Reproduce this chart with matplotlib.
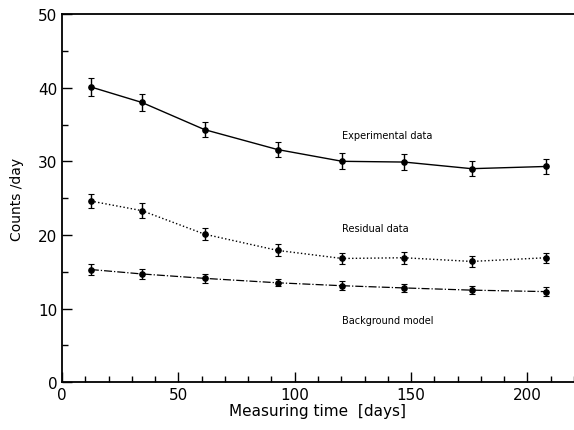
import matplotlib.pyplot as plt
from matplotlib.ticker import MultipleLocator

days = [12.4, 34.3, 61.3, 92.6, 120.4, 147.0, 176.0, 208.0]
experimental = [40.1, 38.0, 34.3, 31.6, 30.0, 29.9, 29.0, 29.3]
experimental_err = [1.2, 1.2, 1.0, 1.0, 1.1, 1.1, 1.0, 1.0]
residual = [24.6, 23.3, 20.1, 17.9, 16.8, 16.9, 16.4, 16.9]
residual_err = [1.0, 1.0, 0.8, 0.8, 0.8, 0.8, 0.7, 0.7]
background = [15.3, 14.7, 14.1, 13.5, 13.1, 12.8, 12.5, 12.3]
background_err = [0.7, 0.7, 0.6, 0.5, 0.6, 0.6, 0.5, 0.6]

fig = plt.figure(figsize=(5.74, 4.31), dpi=100)
ax = fig.add_axes([0.108, 0.111, 0.892, 0.854])

err_kw = dict(color='black', ecolor='black', elinewidth=1.0, capsize=2,
              capthick=0.8, markersize=3.8, marker='o')
ax.errorbar(days, experimental, yerr=experimental_err, linestyle='-',
            linewidth=1.0, **err_kw)
ax.errorbar(days, residual, yerr=residual_err, linestyle=':',
            linewidth=1.0, **err_kw)
ax.errorbar(days, background, yerr=background_err, linestyle='-.',
            linewidth=0.9, **err_kw)

ax.text(120.4, 33.6, 'Experimental data', fontsize=7, va='center')
ax.text(120.4, 21.0, 'Residual data', fontsize=7, va='center')
ax.text(120.4, 8.4, 'Background model', fontsize=7, va='center')

ax.set_xlim(0, 220)
ax.set_ylim(0, 50)
ax.xaxis.set_major_locator(MultipleLocator(50))
ax.xaxis.set_minor_locator(MultipleLocator(10))
ax.yaxis.set_major_locator(MultipleLocator(10))
ax.yaxis.set_minor_locator(MultipleLocator(5))
ax.tick_params(which='both', direction='in', top=False, right=False,
               labelsize=11, width=1.0)
ax.tick_params(which='major', length=7)
ax.tick_params(which='minor', length=4)
ax.spines['right'].set_visible(False)
for s in ['left', 'bottom', 'top']:
    ax.spines[s].set_linewidth(1.3)

ax.set_xlabel('Measuring time  [days]', fontsize=11, labelpad=1)
ax.set_ylabel('Counts /day', fontsize=10, labelpad=10)

fig.savefig('out.png', dpi=100)
